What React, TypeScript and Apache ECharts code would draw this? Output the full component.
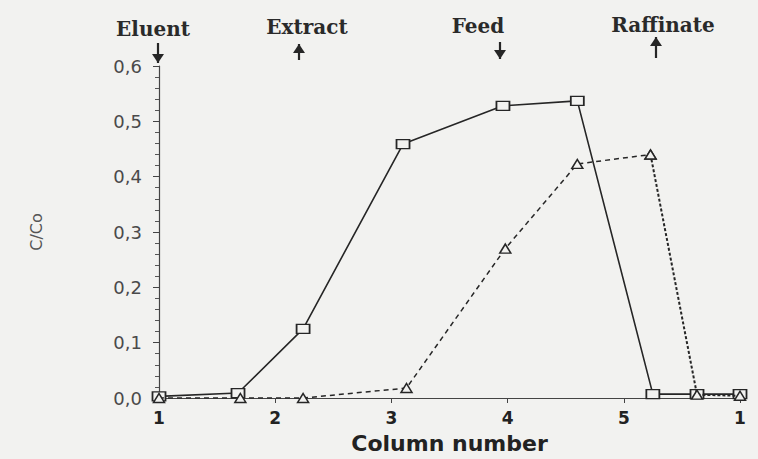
import React, { useEffect, useRef } from "react";
import * as echarts from "echarts";

// Column positions (x) and C/Co values
const squareX = [1.0, 1.68, 2.24, 3.1, 3.96, 4.6, 5.25, 5.63, 6.0];
const squareY = [0.003, 0.009, 0.125, 0.459, 0.528, 0.537, 0.007, 0.007, 0.007];
const triangleX = [1.0, 1.7, 2.24, 3.13, 3.98, 4.6, 5.23, 5.63, 6.0];
const triangleY = [0.0, 0.0, 0.0, 0.018, 0.27, 0.423, 0.44, 0.006, 0.004];

const xTicks = [1, 2, 3, 4, 5, 6];
const xTickLabels = ["1", "2", "3", "4", "5", "1"];

const portNames = ["Eluent", "Extract", "Feed", "Raffinate"];
const portDir = ["down", "up", "down", "up"];

export default function App() {
  const ref = useRef<HTMLDivElement>(null);
  useEffect(() => {
    if (!ref.current) return;
    const chart = echarts.init(ref.current, null, { renderer: "svg" });
    const ink = "#262626";
    const bg = "#f2f2f0";
    const textCenters = [153, 307, 478, 663];
    const textY = [29, 27, 26, 25];
    const arrowX = [158, 299, 500, 656];
    const arrowSpan = [
      [43, 63],
      [44, 60],
      [42, 59],
      [37, 58],
    ];
    const graphics: any[] = [];
    portNames.forEach((n, i) => {
      graphics.push({
        type: "text",
        silent: true,
        style: {
          text: n,
          x: textCenters[i],
          y: textY[i],
          textAlign: "center",
          textVerticalAlign: "middle",
          font: 'bold 20px "DejaVu Serif"',
          fill: "#2a2a2a",
        },
      });
      const x = arrowX[i];
      const [t, b] = arrowSpan[i];
      graphics.push({
        type: "line",
        silent: true,
        shape: { x1: x, y1: t, x2: x, y2: b },
        style: { stroke: ink, lineWidth: 2.2 },
      });
      const head =
        portDir[i] === "down"
          ? [
              [x - 6, b - 9],
              [x + 6, b - 9],
              [x, b],
            ]
          : [
              [x - 6, t + 9],
              [x + 6, t + 9],
              [x, t],
            ];
      graphics.push({
        type: "polygon",
        silent: true,
        shape: { points: head },
        style: { fill: ink },
      });
    });

    const sq = squareX.map((x, i) => [x, squareY[i]]);
    const tr = triangleX.map((x, i) => [x, triangleY[i]]);

    const triStyle = {
      type: "line",
      symbol: "triangle",
      symbolSize: [11, 9],
      itemStyle: { color: bg, borderColor: ink, borderWidth: 1.5 },
      z: 3,
    };

    chart.setOption({
      animation: false,
      backgroundColor: bg,
      grid: { left: 159, right: 18, top: 66, bottom: 55, containLabel: false },
      xAxis: {
        type: "value",
        min: 1,
        max: 6,
        interval: 1,
        name: "Column number",
        nameLocation: "middle",
        nameGap: 34,
        nameTextStyle: {
          fontFamily: "DejaVu Sans",
          fontWeight: "bold",
          fontSize: 22,
          color: "#222",
        },
        axisLine: { lineStyle: { color: "#444", width: 1.2 } },
        axisTick: { show: true, length: 5, lineStyle: { color: "#444" } },
        axisLabel: {
          margin: 11,
          fontFamily: "DejaVu Sans",
          fontWeight: "bold",
          fontSize: 17,
          color: "#222",
          formatter: (v: number) => {
            const i = xTicks.indexOf(Math.round(v));
            return i >= 0 ? xTickLabels[i] : "";
          },
        },
        splitLine: { show: false },
      },
      yAxis: {
        type: "value",
        min: 0,
        max: 0.6,
        interval: 0.1,
        name: "C/Co",
        nameLocation: "middle",
        nameRotate: 90,
        nameGap: 115,
        nameTextStyle: { fontFamily: "DejaVu Sans", fontSize: 16, color: "#555" },
        axisLine: { show: true, lineStyle: { color: "#444", width: 1.2 } },
        axisTick: { show: true, length: 6, lineStyle: { color: "#444" } },
        minorTick: { show: true, splitNumber: 5, length: 4, lineStyle: { color: "#555" } },
        axisLabel: {
          margin: 17,
          fontFamily: "DejaVu Sans",
          fontSize: 18,
          color: "#4a4a4a",
          formatter: (v: number) => v.toFixed(1).replace(".", ","),
        },
        splitLine: { show: false },
      },
      graphic: graphics,
      series: [
        {
          ...triStyle,
          data: tr.slice(0, 7),
          lineStyle: { color: ink, width: 1.5, type: [5, 4] },
        },
        {
          ...triStyle,
          data: tr.slice(6),
          lineStyle: { color: ink, width: 2, type: [3, 2] },
        },
        {
          type: "line",
          data: sq,
          symbol: "rect",
          symbolSize: [13, 9],
          lineStyle: { color: ink, width: 1.6 },
          itemStyle: { color: bg, borderColor: ink, borderWidth: 1.5 },
          z: 2,
        },
      ],
    });
    return () => chart.dispose();
  }, []);
  return (
    <div
      ref={ref}
      style={{ position: "fixed", left: 0, top: 0, width: 758, height: 459 }}
    />
  );
}
